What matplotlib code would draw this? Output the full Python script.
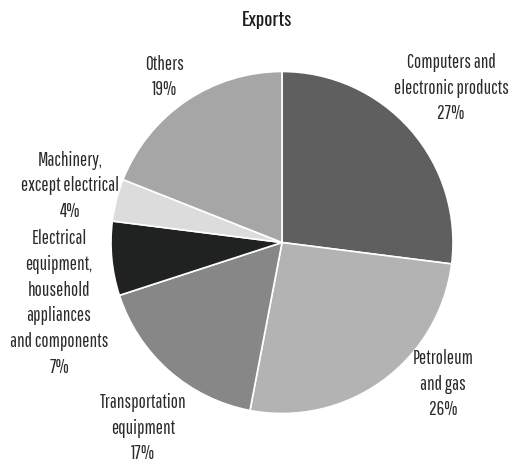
import matplotlib
matplotlib.use("Agg")
import matplotlib.pyplot as plt

categories = [
    "Computers and\nelectronic products",
    "Petroleum\nand gas",
    "Transportation\nequipment",
    "Electrical\nequipment,\nhousehold\nappliances\nand components",
    "Machinery,\nexcept electrical",
    "Others",
]
shares = [27, 26, 17, 7, 4, 19]
colors = ["#5f5f5f", "#b3b3b3", "#878787", "#202221", "#dcdcdc", "#a6a6a6"]
title = "Exports"

W, H = 512, 468
cx, cy, R = 282, 242.5, 171

# label centre positions in pixels (layout only)
label_px = [(451, 88), (443, 384), (143, 428), (59, 303), (70, 186), (165, 77)]

fig = plt.figure(figsize=(W / 100, H / 100), dpi=100)
ax = fig.add_axes([0, 0, 1, 1])

ax.pie(shares, colors=colors, startangle=90, counterclock=False, radius=1,
       center=(0, 0), wedgeprops=dict(edgecolor="white", linewidth=1.2),
       frame=True)
ax.set_xlim(-cx / R, (W - cx) / R)
ax.set_ylim(-(H - cy) / R, cy / R)
ax.set_aspect("equal")
ax.axis("off")

font = ["Pathway Gothic One", "DejaVu Sans"]
for cat, val, (px, py) in zip(categories, shares, label_px):
    fig.text(px / W, 1 - py / H, f"{cat}\n{val}%", ha="center", va="center",
             family=font, fontsize=13.8, linespacing=1.45, color="#2a2a2a")

fig.text(267 / W, 1 - 20 / H, title, ha="center", va="center",
         family=["Oswald", "DejaVu Sans"], fontsize=13.5, fontweight="bold",
         color="#1e1e1e")

fig.savefig("out.png", dpi=100)
